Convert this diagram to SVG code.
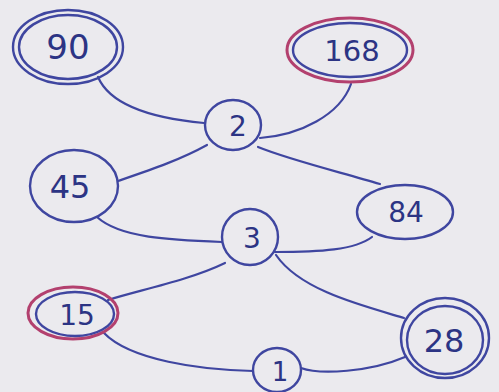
<svg xmlns="http://www.w3.org/2000/svg" width="499" height="392" viewBox="0 0 499 392">
<style>
.bg{fill:#ebeaee}
.n{fill:none;stroke:#3f46a0;stroke-width:2.4}
.p{fill:none;stroke:#b3406e;stroke-width:3}
.e{fill:none;stroke:#3f46a0;stroke-width:2.2;stroke-linecap:round}
.t{font-family:"DejaVu Sans","Liberation Sans",sans-serif;fill:#2c3484;text-anchor:middle}
</style>
<rect class="bg" x="0" y="0" width="499" height="392"/>
<g id="connectors">
<path class="e" d="M98,77 C110,105 150,118 204,123"/>
<path class="e" d="M118,181 C150,170 180,160 207,145"/>
<path class="e" d="M351,84 C340,115 300,135 260,138"/>
<path class="e" d="M258,147 C290,160 340,172 380,184"/>
<path class="e" d="M97,217 C120,238 170,240 222,242"/>
<path class="e" d="M372,237 C355,250 320,252 275,252"/>
<path class="e" d="M225,263 C190,280 140,290 108,300"/>
<path class="e" d="M276,255 C300,290 360,305 404,318"/>
<path class="e" d="M104,333 C130,360 200,370 253,371"/>
<path class="e" d="M301,368 C320,375 370,372 405,357"/>
</g>
<g id="n90">
<ellipse class="n" cx="68" cy="47" rx="55" ry="37"/>
<ellipse class="n" cx="68" cy="47" rx="49" ry="32"/>
<text class="t" x="68" y="59" font-size="34">90</text>
</g>
<g id="n168">
<ellipse class="p" cx="350" cy="50" rx="63" ry="32"/>
<ellipse class="n" cx="350" cy="50" rx="57" ry="27"/>
<text class="t" x="352" y="61" font-size="29">168</text>
</g>
<g id="n2">
<ellipse class="n" cx="233" cy="125" rx="28" ry="25"/>
<text class="t" x="238" y="136" font-size="28">2</text>
</g>
<g id="n45">
<ellipse class="n" cx="74" cy="186" rx="44" ry="36"/>
<text class="t" x="70" y="198" font-size="32">45</text>
</g>
<g id="n84">
<ellipse class="n" cx="405" cy="212" rx="48" ry="27"/>
<text class="t" x="406" y="222" font-size="28">84</text>
</g>
<g id="n3">
<ellipse class="n" cx="250" cy="237" rx="28" ry="28"/>
<text class="t" x="252" y="248" font-size="28">3</text>
</g>
<g id="n15">
<ellipse class="p" cx="73" cy="313" rx="45" ry="26"/>
<ellipse class="n" cx="75" cy="314" rx="39" ry="22"/>
<text class="t" x="77" y="325" font-size="28">15</text>
</g>
<g id="n28">
<ellipse class="n" cx="445" cy="338" rx="44" ry="40"/>
<ellipse class="n" cx="445" cy="340" rx="38" ry="34"/>
<text class="t" x="444" y="352" font-size="32">28</text>
</g>
<g id="n1">
<ellipse class="n" cx="277" cy="370" rx="24" ry="22"/>
<text class="t" x="280" y="381" font-size="26">1</text>
</g>
</svg>
